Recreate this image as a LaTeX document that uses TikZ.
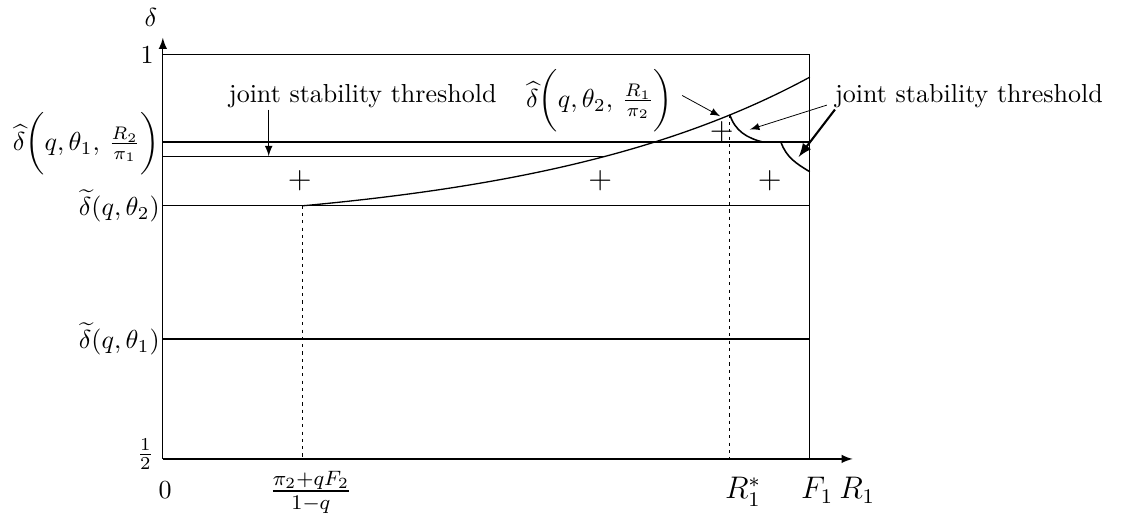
\documentclass[tikz,border=0pt]{standalone}
\usepackage{amsmath}
\begin{document}
\begin{tikzpicture}[>=latex]
\useasboundingbox (-2.2,-0.8) rectangle (13.08,6.2);
\tikzset{boxline/.style={line width=0.5pt},
  guide/.style={dash pattern=on 1.2pt off 1.6pt},
  thresh/.style={line width=0.6pt},
  xlab/.style={anchor=base,font=\large}}

% axes and box
\coordinate (O) at (0,0);
\coordinate (xend) at (9.32,0);
\coordinate (yend) at (0,5.69);
\coordinate (top) at (0,5.46);
\coordinate (topr) at (8.74,5.46);
\coordinate (F) at (8.74,0);
\draw[->,boxline] (O) -- (xend);
\draw[->,boxline] (O) -- (yend);
\draw[boxline] (top) -- (topr) -- (F);

% horizontal levels
\coordinate (hatl) at (0,4.28);
\coordinate (hatr) at (8.74,4.28);
\coordinate (jointl) at (0,4.09);
\coordinate (jointr) at (5.98,4.09);
\coordinate (tiltwol) at (0,3.42);
\coordinate (tiltwor) at (8.74,3.42);
\coordinate (tilonel) at (0,1.62);
\coordinate (tiloner) at (8.74,1.62);
\draw[boxline] (hatl) -- (hatr);
\draw[boxline] (jointl) -- (jointr);
\draw[boxline] (tiltwol) -- (tiltwor);
\draw[boxline] (tilonel) -- (tiloner);

% curve delta hat theta 2
\coordinate (cstart) at (1.89,3.42);
\coordinate (rstar) at (7.66,4.65);
\draw[boxline] plot[domain=1.89:8.74,samples=80] (\x,{3.42+0.355*(exp(0.259*(\x-1.89))-1)});

% dashed guides
\coordinate (cfoot) at (1.89,0);
\coordinate (rfoot) at (7.66,0);
\draw[guide] (cstart) -- (cfoot);
\draw[guide] (rstar) -- (rfoot);

% threshold arcs
\coordinate (arcone) at (8.11,4.28);
\coordinate (arctwos) at (8.35,4.28);
\coordinate (arctwoe) at (8.74,3.88);
\draw[thresh] (rstar) to[out=-72,in=166] (arcone);
\draw[thresh] (arctwos) to[out=-70,in=149] (arctwoe);

% axis labels
\node (delta) at (-0.16,5.96) {$\delta$};
\node[left] (one) at (top) {$1$};
\node[left,inner sep=1pt] (hatone) at (0,4.26) {$\widehat{\delta}\bigg(q,\theta_1,\,\frac{R_2}{\pi_1}\bigg)$};
\node[left,inner sep=1pt] (tiltwo) at (tiltwol) {$\widetilde{\delta}(q,\theta_2)$};
\node[left,inner sep=1pt] (tilone) at (tilonel) {$\widetilde{\delta}(q,\theta_1)$};
\node[left] (half) at (0,0.06) {$\frac{1}{2}$};
\node[anchor=base] (zero) at (0.03,-0.54) {$0$};
\node[xlab] (cut) at (2.0,-0.54) {$\frac{\pi_2+qF_2}{1-q}$};
\node[xlab] (rs) at (7.84,-0.54) {$R_1^*$};
\node[xlab] (fone) at (8.84,-0.54) {$F_1$};
\node[xlab] (rone) at (9.38,-0.54) {$R_1$};

% regions
\node (pa) at (1.85,3.76) {\large$+$};
\node (pb) at (5.91,3.76) {\large$+$};
\node (pc) at (8.20,3.76) {\large$+$};
\node (pd) at (7.55,4.42) {\large$+$};

% callouts
\node[anchor=base] (jleft) at (2.70,4.82) {joint stability threshold};
\coordinate (jlefttip) at (1.43,4.09);
\draw[->] (1.43,4.72) -- (jlefttip);
\node (hattwo) at (5.9,4.84) {$\widehat{\delta}\bigg(q,\theta_2,\,\frac{R_1}{\pi_2}\bigg)$};
\coordinate (hattip) at (7.53,4.63);
\draw[->,line width=0.3pt] ([yshift=2pt]hattwo.east) -- (hattip);
\node[anchor=base] (jright) at (10.89,4.82) {joint stability threshold};
\coordinate (jrtipa) at (7.93,4.45);
\coordinate (jrtipb) at (8.59,4.08);
\draw[->,line width=0.3pt] (8.97,4.78) -- (jrtipa);
\draw[->,line width=0.8pt] (9.08,4.72) -- (jrtipb);
\end{tikzpicture}
\end{document}
